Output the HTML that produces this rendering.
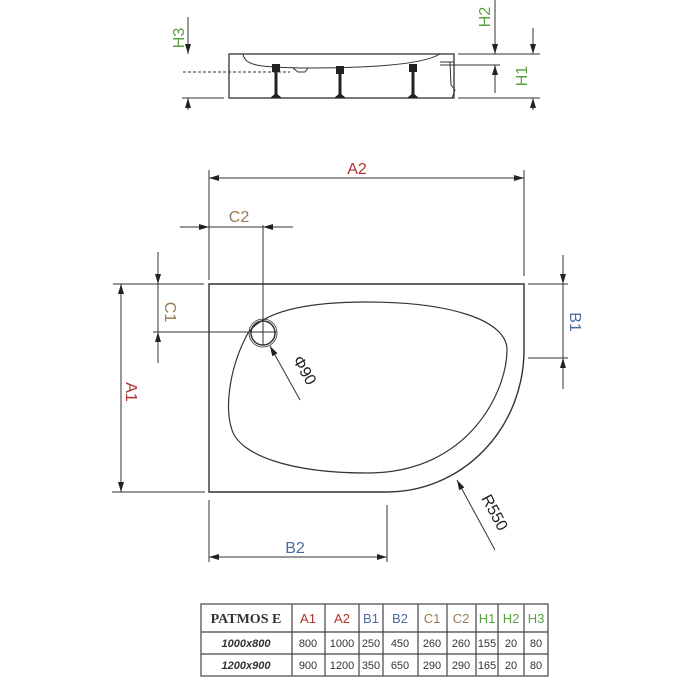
<!DOCTYPE html>
<html><head><meta charset="utf-8"><style>
html,body{margin:0;padding:0;background:#fff;}
svg{display:block;}
text{font-family:"Liberation Sans",sans-serif;}
</style></head><body>
<svg width="700" height="700" viewBox="0 0 700 700" xmlns="http://www.w3.org/2000/svg">
<defs>
<marker id="ar" viewBox="0 0 10 6" refX="10" refY="3" markerWidth="13" markerHeight="6" markerUnits="userSpaceOnUse" orient="auto"><path d="M0,0 L10,3 L0,6 Z" fill="#222"/></marker>
</defs>
<g stroke="#333" fill="none" stroke-width="1">
<!-- side view -->
<rect x="229" y="54" width="225" height="44" stroke-width="1.3"/>
<path d="M243,54 C245,66 260,67 300,68 C360,68 420,66 440,54" />
<path d="M440,62 L454,62"/>
<path d="M450,62 L451,85 L455,90 L452,98" stroke-width="1"/>
<line x1="183" y1="72" x2="290" y2="72" stroke-dasharray="3,2"/>
<path d="M293,68 L298,72 L305,72 L308,68" />
<g stroke="#222" stroke-width="3">
<line x1="276" y1="67" x2="276" y2="97"/>
<line x1="340" y1="68" x2="340" y2="97"/>
<line x1="413" y1="67" x2="413" y2="97"/>
</g>
<g fill="#222" stroke="none">
<rect x="272" y="64" width="8" height="8"/><rect x="336" y="66" width="8" height="8"/><rect x="409" y="64" width="8" height="8"/>
<path d="M270,98 L276,93 L282,98Z"/><path d="M334,98 L340,93 L346,98Z"/><path d="M407,98 L413,93 L419,98Z"/>
</g>
<line x1="182" y1="98" x2="224" y2="98"/>
<line x1="188" y1="17" x2="188" y2="54" marker-end="url(#ar)"/>
<line x1="188" y1="110" x2="188" y2="98" marker-end="url(#ar)"/>
<line x1="458" y1="54" x2="540" y2="54"/>
<line x1="440" y1="65" x2="500" y2="65"/>
<line x1="458" y1="98" x2="540" y2="98"/>
<line x1="495" y1="0" x2="495" y2="54" marker-end="url(#ar)"/>
<line x1="495" y1="93" x2="495" y2="65" marker-end="url(#ar)"/>
<line x1="533" y1="28" x2="533" y2="54" marker-end="url(#ar)"/>
<line x1="533" y1="110" x2="533" y2="98" marker-end="url(#ar)"/>

<!-- plan -->
<path d="M209,284 L524,284 L524,350 A137,142 0 0 1 387,492 L209,492 Z" stroke-width="1.4"/>
<path d="M248,333 C265,310 310,302 367,302 C450,302 507,320 507,350 C507,390 470,473 367,473 C290,473 240,455 232,430 C225,410 228,370 248,333 Z" stroke-width="1.2"/>
<circle cx="263" cy="333" r="12" stroke-width="1.5"/>
<circle cx="263" cy="333" r="14" stroke-width="0.8"/>
<line x1="263" y1="225" x2="263" y2="345"/>
<line x1="153" y1="332" x2="277" y2="332"/>
<!-- A2 -->
<line x1="209" y1="170" x2="209" y2="280"/>
<line x1="524" y1="170" x2="524" y2="276"/>
<line x1="366" y1="178" x2="209" y2="178" marker-end="url(#ar)"/>
<line x1="366" y1="178" x2="524" y2="178" marker-end="url(#ar)"/>
<!-- C2 -->
<line x1="180" y1="227" x2="209" y2="227" marker-end="url(#ar)"/>
<line x1="209" y1="227" x2="263" y2="227"/>
<line x1="293" y1="227" x2="263" y2="227" marker-end="url(#ar)"/>
<!-- C1 -->
<line x1="158" y1="252" x2="158" y2="284" marker-end="url(#ar)"/>
<line x1="158" y1="284" x2="158" y2="332"/>
<line x1="158" y1="363" x2="158" y2="332" marker-end="url(#ar)"/>
<line x1="113" y1="284" x2="204" y2="284"/>
<!-- A1 -->
<line x1="112" y1="492" x2="205" y2="492"/>
<line x1="121" y1="388" x2="121" y2="284" marker-end="url(#ar)"/>
<line x1="121" y1="388" x2="121" y2="492" marker-end="url(#ar)"/>
<!-- B1 -->
<line x1="528" y1="284" x2="568" y2="284"/>
<line x1="528" y1="358" x2="568" y2="358"/>
<line x1="563" y1="255" x2="563" y2="284" marker-end="url(#ar)"/>
<line x1="563" y1="284" x2="563" y2="358"/>
<line x1="563" y1="389" x2="563" y2="358" marker-end="url(#ar)"/>
<!-- B2 -->
<line x1="209" y1="500" x2="209" y2="562"/>
<line x1="387" y1="505" x2="387" y2="562"/>
<line x1="298" y1="557" x2="209" y2="557" marker-end="url(#ar)"/>
<line x1="298" y1="557" x2="387" y2="557" marker-end="url(#ar)"/>
<!-- leaders -->
<line x1="300" y1="400" x2="270" y2="346" marker-end="url(#ar)"/>
<line x1="495" y1="550" x2="457" y2="480" marker-end="url(#ar)"/>
</g>
<g font-size="16">
<text x="184" y="38" fill="#5aa040" transform="rotate(-90 184 38)" text-anchor="middle">H3</text>
<text x="490" y="17" fill="#5aa040" transform="rotate(-90 490 17)" text-anchor="middle">H2</text>
<text x="527" y="76" fill="#5aa040" transform="rotate(-90 527 76)" text-anchor="middle">H1</text>
<text x="357" y="174" fill="#b0302a" text-anchor="middle">A2</text>
<text x="239" y="222" fill="#9a7a55" text-anchor="middle">C2</text>
<text x="165" y="312" fill="#9a7a55" transform="rotate(90 165 312)" text-anchor="middle">C1</text>
<text x="126" y="392" fill="#b0302a" transform="rotate(90 126 392)" text-anchor="middle">A1</text>
<text x="570" y="322" fill="#4a6aa0" transform="rotate(90 570 322)" text-anchor="middle">B1</text>
<text x="295" y="553" fill="#4a6aa0" text-anchor="middle">B2</text>
<text x="300" y="373" fill="#222" transform="rotate(60 300 373)" text-anchor="middle">Φ90</text>
<text x="490" y="515" fill="#222" transform="rotate(62 490 515)" text-anchor="middle">R550</text>
</g>
<!-- table -->
<g stroke="#444" stroke-width="1.2" fill="none">
<rect x="201" y="604" width="347" height="72"/>
<line x1="201" y1="632" x2="548" y2="632"/>
<line x1="201" y1="654" x2="548" y2="654"/>
<line x1="292" y1="604" x2="292" y2="676"/><line x1="325" y1="604" x2="325" y2="676"/>
<line x1="359" y1="604" x2="359" y2="676"/><line x1="383" y1="604" x2="383" y2="676"/>
<line x1="418" y1="604" x2="418" y2="676"/><line x1="447" y1="604" x2="447" y2="676"/>
<line x1="476" y1="604" x2="476" y2="676"/><line x1="498" y1="604" x2="498" y2="676"/>
<line x1="524" y1="604" x2="524" y2="676"/>
</g>
<g font-size="13" text-anchor="middle">
<text x="246" y="623" font-weight="bold" font-size="14" fill="#333" style="font-family:'Liberation Serif',serif">PATMOS E</text>
<text x="308" y="623" fill="#b0302a">A1</text><text x="342" y="623" fill="#b0302a">A2</text>
<text x="371" y="623" fill="#4a6aa0">B1</text><text x="400" y="623" fill="#4a6aa0">B2</text>
<text x="432" y="623" fill="#9a7a55">C1</text><text x="461" y="623" fill="#9a7a55">C2</text>
<text x="487" y="623" fill="#5aa040">H1</text><text x="511" y="623" fill="#5aa040">H2</text><text x="536" y="623" fill="#5aa040">H3</text>
<g font-size="11" fill="#333">
<text x="246" y="647" font-style="italic" font-weight="bold">1000x800</text>
<text x="308" y="647">800</text><text x="342" y="647">1000</text><text x="371" y="647">250</text><text x="400" y="647">450</text><text x="432" y="647">260</text><text x="461" y="647">260</text><text x="487" y="647">155</text><text x="511" y="647">20</text><text x="536" y="647">80</text>
<text x="246" y="669" font-style="italic" font-weight="bold">1200x900</text>
<text x="308" y="669">900</text><text x="342" y="669">1200</text><text x="371" y="669">350</text><text x="400" y="669">650</text><text x="432" y="669">290</text><text x="461" y="669">290</text><text x="487" y="669">165</text><text x="511" y="669">20</text><text x="536" y="669">80</text>
</g>
</g>
</svg>
</body></html>
